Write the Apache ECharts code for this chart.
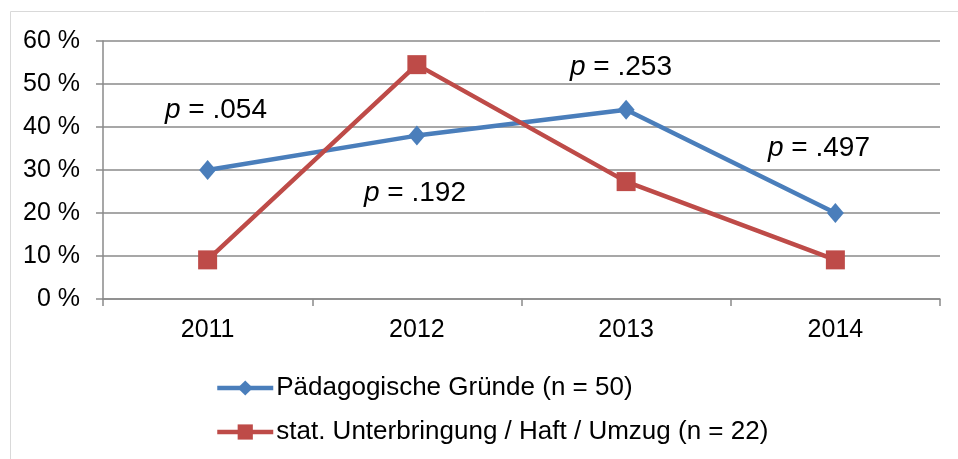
<!DOCTYPE html>
<html lang="de">
<head>
	<meta charset="UTF-8">
	<title>Gründe</title>
	<style>
		body { margin: 0; background: #fff; }
	</style>
</head>
<body>
	<div id="main" style="width: 958px;height: 459px"></div>

	<script src="https://cdn.jsdelivr.net/npm/echarts@6/dist/echarts.min.js"></script>
	<script type="text/javascript">
		// Daten
		var jahre = ['2011', '2012', '2013', '2014'];
		var paedagogisch = [30, 38, 44, 20];
		var unterbringung = [9.1, 54.5, 27.3, 9.1];
		var serienNamen = ['Pädagogische Gründe (n = 50)', 'stat. Unterbringung / Haft / Umzug (n = 22)'];
		var pWerte = ['.054', '.192', '.253', '.497'];

		var font = 'Arial, "Liberation Sans", sans-serif';
		var myChart = echarts.init(document.getElementById('main'));

		// p-Werte als Textfelder (Position in Pixel: links, Mitte)
		var pPos = [[165, 110], [364, 193], [570, 67], [768, 148]];
		var pTexte = pWerte.map(function (p, i) {
			return {
				type: 'text',
				x: pPos[i][0],
				y: pPos[i][1],
				style: {
					text: '{i|p} = ' + p,
					font: '28px ' + font,
					fill: '#000',
					align: 'left',
					verticalAlign: 'middle',
					rich: {
						i: { fontStyle: 'italic', fontSize: 28, fontFamily: font, fill: '#000' }
					}
				}
			};
		});

		var option = {
			animation: false,
			textStyle: { fontFamily: font },
			grid: { left: 103, right: 18, top: 41, bottom: 160 },
			legend: {
				orient: 'vertical',
				left: 210,
				top: 370,
				itemGap: 18,
				itemWidth: 56,
				itemHeight: 19,
				lineStyle: { width: 4.5 },
				textStyle: { fontSize: 26, color: '#000', fontFamily: font, padding: [0, 0, 0, -2] },
				data: serienNamen
			},
			xAxis: {
				type: 'category',
				data: jahre,
				boundaryGap: true,
				axisLine: { lineStyle: { color: '#8a8a8a', width: 1.5 } },
				axisTick: { show: true, length: 7, lineStyle: { color: '#8a8a8a', width: 1.5 } },
				axisLabel: { fontSize: 25, color: '#000', margin: 19 }
			},
			yAxis: {
				type: 'value',
				min: 0,
				max: 60,
				interval: 10,
				axisLine: { show: true, lineStyle: { color: '#8a8a8a', width: 1.5 } },
				axisTick: { show: true, length: 7, lineStyle: { color: '#8a8a8a', width: 1.5 } },
				axisLabel: { fontSize: 25, color: '#000', margin: 23, formatter: '{value} %' },
				splitLine: { lineStyle: { color: '#8a8a8a', width: 1.5 } }
			},
			series: [{
				name: serienNamen[0],
				type: 'line',
				data: paedagogisch,
				symbol: 'diamond',
				symbolSize: [17, 20],
				lineStyle: { width: 4.5, color: '#4a7ebb' },
				itemStyle: { color: '#4a7ebb' }
			}, {
				name: serienNamen[1],
				type: 'line',
				data: unterbringung,
				symbol: 'rect',
				symbolSize: 19,
				lineStyle: { width: 4.5, color: '#be4b48' },
				itemStyle: { color: '#be4b48' }
			}],
			graphic: [{
				type: 'rect',
				shape: { x: 10.5, y: 11.5, width: 960, height: 460 },
				style: { fill: 'none', stroke: '#d9d9d9', lineWidth: 1 },
				silent: true
			}].concat(pTexte)
		};
		myChart.setOption(option);
	</script>
</body>
</html>
